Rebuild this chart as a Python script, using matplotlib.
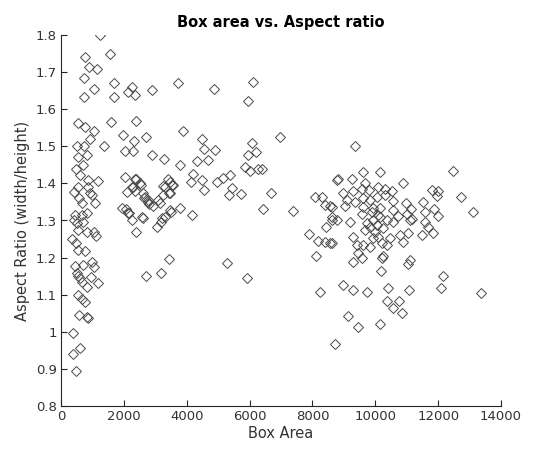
import matplotlib
matplotlib.use("Agg")
import matplotlib.pyplot as plt
from matplotlib.ticker import FuncFormatter

# Box area values
box_area = [
    # left cluster
    1250, 1560, 764, 900, 1155, 742, 1697, 1060, 742, 1676, 2120, 2270, 2355, 2885, 3713,
    530, 764, 1050, 933, 1591, 2377, 1983, 2323, 2695, 3882,
    500, 742, 1368, 551, 817, 2036, 2300, 2885, 3277, 3797,
    467, 710, 605, 848, 1187, 2036, 2355, 2514, 551, 869, 2270, 3245, 3468, 3522,
    414, 923, 2090, 2355, 2620, 3468, 573, 976, 2673, 2758, 2810, 658, 1082, 3150,
    1930, 2143, 3468, 3787, 445, 658, 817, 2567, 3203,
    2620, 414, 500, 710, 3045, 3182, 3309, 3500, 551, 817, 1050, 1104, 2377,
    360, 477, 530, 764, 3436, 445, 710, 996, 1060, 500, 551, 605, 658, 817, 955, 1187,
    2695, 3182, 530, 658, 764, 583, 817, 869, 392, 605, 392, 467,
    # middle
    4869, 6120, 5940, 4497, 4560, 4900, 4318, 4668, 6067, 6195, 5960, 6969, 5855, 6024, 6386,
    4210, 4137, 4497, 4560, 4954, 5164, 5378, 5431, 5728, 5355, 6692, 6280,
    2387, 2540, 2290, 2650, 2780, 3415, 3309, 3556, 3450, 3240, 3080, 2920, 2160, 2250, 2070,
    4178, 6437, 7392, 5292, 5908,
    # right cluster left part
    8773, 8082, 8295, 8400, 8560, 8613, 8422, 7901, 8188, 8400, 8560, 8104, 8241,
    8613, 8613, 8793, 8613, 8805,
    # right cluster
    9355, 9620, 10151, 12483, 9250, 9673, 10892,
    8984, 9302, 9567, 9810, 10077, 10310, 10523, 11796, 12006, 11955, 12728, 13100,
    9090, 9355, 9620, 9832, 10045, 10310, 10574, 9037, 9620, 9938, 10151, 10977, 11127,
    11532, 11870, 9196, 9567, 9886, 10098, 10574, 11000, 11160, 11583, 12006,
    9938, 10151, 10363, 10733, 9727, 9832, 10045, 10574, 11105, 11583,
    9673, 9992, 10256, 11690, 11848, 11478, 10787, 11051,
    9302, 9938, 10098, 10469, 10873, 9408, 9620, 9832, 10204, 10363,
    9461, 9567, 9280, 10204, 10256, 11105, 11051, 10172, 12144, 12080, 13355,
    8984, 9302, 9727, 10414, 11073, 10363, 10755, 10553, 10860, 9142,
    9461, 10151, 8720,
]

# Aspect ratio values
aspect_ratio = [
    1.800, 1.750, 1.740, 1.715, 1.708, 1.685, 1.670, 1.654, 1.632, 1.634, 1.647, 1.660, 1.638, 1.652, 1.670,
    1.564, 1.551, 1.542, 1.521, 1.566, 1.569, 1.530, 1.515, 1.524, 1.541,
    1.500, 1.500, 1.500, 1.472, 1.476, 1.487, 1.487, 1.476, 1.467, 1.450,
    1.438, 1.449, 1.423, 1.409, 1.407, 1.418, 1.411, 1.400, 1.391, 1.391, 1.391, 1.394, 1.403, 1.396,
    1.378, 1.375, 1.378, 1.380, 1.373, 1.375, 1.360, 1.369, 1.364, 1.351, 1.345, 1.348, 1.346, 1.348,
    1.333, 1.319, 1.328, 1.333, 1.315, 1.315, 1.321, 1.310, 1.306,
    1.306, 1.300, 1.292, 1.297, 1.283, 1.297, 1.310, 1.324, 1.274, 1.270, 1.270, 1.258, 1.268,
    1.249, 1.239, 1.220, 1.219, 1.195, 1.178, 1.180, 1.187, 1.176, 1.158, 1.150, 1.144, 1.135, 1.122, 1.147, 1.132,
    1.150, 1.159, 1.100, 1.088, 1.081, 1.045, 1.041, 1.036, 0.998, 0.955, 0.940, 0.893,
    # middle
    1.654, 1.674, 1.622, 1.520, 1.492, 1.490, 1.461, 1.463, 1.508, 1.484, 1.477, 1.525, 1.445, 1.434, 1.439,
    1.424, 1.405, 1.409, 1.382, 1.405, 1.414, 1.423, 1.387, 1.371, 1.369, 1.373, 1.438,
    1.412, 1.396, 1.389, 1.360, 1.355, 1.411, 1.391, 1.396, 1.375, 1.370, 1.355, 1.340, 1.320, 1.300, 1.330,
    1.315, 1.330, 1.325, 1.186, 1.144,
    # right cluster left part
    1.409, 1.364, 1.364, 1.342, 1.339, 1.309, 1.283, 1.263, 1.245, 1.243, 1.239, 1.204, 1.106,
    1.337, 1.300, 1.300, 1.239, 1.411,
    # right cluster
    1.500, 1.432, 1.431, 1.434, 1.411, 1.400, 1.400,
    1.373, 1.380, 1.384, 1.382, 1.391, 1.384, 1.380, 1.382, 1.380, 1.366, 1.364, 1.324,
    1.355, 1.351, 1.360, 1.355, 1.364, 1.369, 1.353, 1.339, 1.337, 1.333, 1.333, 1.346, 1.330,
    1.351, 1.330, 1.297, 1.318, 1.324, 1.315, 1.327, 1.318, 1.303, 1.324, 1.312,
    1.301, 1.309, 1.301, 1.312, 1.292, 1.282, 1.288, 1.297, 1.300, 1.297,
    1.274, 1.270, 1.279, 1.282, 1.267, 1.261, 1.261, 1.267,
    1.255, 1.252, 1.256, 1.252, 1.243, 1.234, 1.234, 1.229, 1.239, 1.234,
    1.213, 1.198, 1.189, 1.198, 1.204, 1.194, 1.183, 1.165, 1.150, 1.118, 1.104,
    1.126, 1.113, 1.108, 1.119, 1.113, 1.083, 1.083, 1.063, 1.051, 1.043,
    1.014, 1.020, 0.967,
]

x_ticks = [0, 2000, 4000, 6000, 8000, 10000, 12000, 14000]
y_ticks = [0.8, 0.9, 1.0, 1.1, 1.2, 1.3, 1.4, 1.5, 1.6, 1.7, 1.8]

n = min(len(box_area), len(aspect_ratio))

fig = plt.figure(figsize=(5.57, 4.5), dpi=100)
ax = fig.add_axes([61/557, 1-406/450, 440/557, 371/450])
ax.plot(box_area[:n], aspect_ratio[:n], linestyle='none', marker='D', markersize=5.0,
        markerfacecolor='none', markeredgecolor='#4a4a4a', markeredgewidth=0.7)

ax.set_xlim(0, 14000)
ax.set_ylim(0.8, 1.8)
ax.set_xticks(x_ticks)
ax.set_yticks(y_ticks)
ax.xaxis.set_major_formatter(FuncFormatter(lambda v, p: f"{int(v)}"))
ax.yaxis.set_major_formatter(FuncFormatter(lambda v, p: f"{v:g}"))
ax.tick_params(direction='in', length=4, width=0.8, labelsize=9.5, colors='#262626',
               labelcolor='#333333', pad=3)
for s in ['top', 'right']:
    ax.spines[s].set_visible(False)
for s in ['left', 'bottom']:
    ax.spines[s].set_color('#262626')
    ax.spines[s].set_linewidth(0.8)

ax.set_xlabel('Box Area', fontsize=10.5, color='#333333', labelpad=2)
ax.set_ylabel('Aspect Ratio (width/height)', fontsize=10.5, color='#333333', labelpad=4)
ax.set_title('Box area vs. Aspect ratio', fontsize=10.5, fontweight='bold', color='black', pad=6)

fig.savefig('out.png', dpi=100)
